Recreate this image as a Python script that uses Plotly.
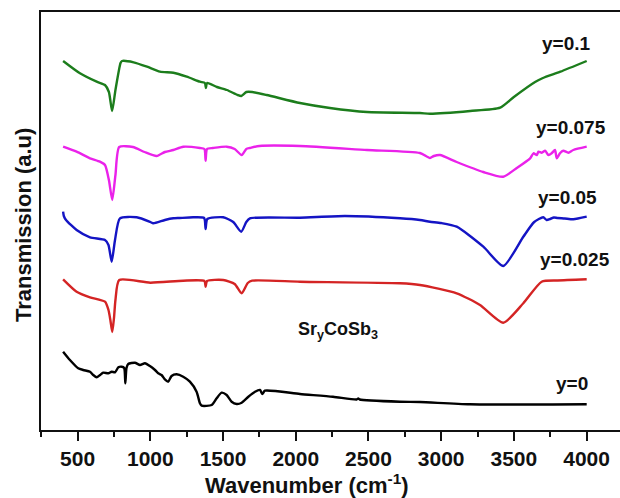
import plotly.graph_objects as go

# FTIR spectra of SryCoSb3 samples, stacked with vertical offsets (a.u.)
labels = ["y=0", "y=0.025", "y=0.05", "y=0.075", "y=0.1"]
colors = ["#000000", "#d42424", "#1414c4", "#ea22ea", "#1c7d1c"]

wn_y0 = [400, 447, 504, 539, 585, 607, 631, 654, 676, 711, 734, 757, 780, 803, 820, 828, 836, 848,
         894, 929, 963, 997, 1032, 1054, 1077, 1100, 1123, 1146, 1181, 1226, 1272, 1318, 1341,
         1353, 1422, 1456, 1490, 1525, 1559, 1594, 1628, 1674, 1720, 1754, 1770, 1788, 2029,
         2256, 2419, 2430, 2440, 2717, 2854, 3198, 4001]
t_y0 = [78.3, 70, 61.7, 60, 58.3, 55, 52.7, 55, 57.3, 56.7, 58.3, 57.7, 62.7, 63.3, 62, 46.7, 62, 66,
        67.3, 65, 66.7, 64, 60, 56.7, 55, 50.7, 48.3, 54, 55.7, 53.3, 48.3, 38.3, 26.7,
        24.3, 25, 31.7, 37.3, 35, 28.3, 26, 27.3, 33.3, 38.3, 40, 36, 39.3, 36,
        33.3, 30.5, 31.5, 30.5, 28.3, 28, 25.7, 25.7]

wn_y025 = [400, 493, 585, 688, 712, 725, 738, 750, 760, 786, 1000, 1226, 1372, 1380, 1390,
           1501, 1580, 1628, 1670, 1700, 2029, 2717, 2854, 3107, 3267, 3427, 3565, 3691,
           3800, 4001]
t_y025 = [150.7, 138.3, 132.7, 128.3, 120, 110, 98, 112, 130, 150, 147.3, 149.3, 149, 143.3, 149,
          150, 146, 136.7, 147, 149.3, 148.3, 146.7, 145, 136.7, 125, 107.3, 126.7, 148.3,
          149.5, 150.7]

wn_y05 = [400, 405, 420, 493, 585, 688, 712, 734, 757, 791, 906, 1000, 1020, 1100, 1158, 1200,
          1295, 1370, 1380, 1392, 1501, 1570, 1625, 1660, 1685, 2029, 2338, 2717, 2854, 2923,
          3000, 3107, 3290, 3427, 3565, 3640, 3702, 3725, 3750, 3775, 3800, 3850, 3909, 4001]
t_y05 = [218.3, 214, 210, 200, 192.7, 190, 185, 168.3, 190, 211.7, 212.7, 208, 206.7, 210, 211.7, 212,
         212.7, 212, 201, 211, 212.7, 208, 198.3, 208, 211.7, 212.3, 214, 211.7, 210, 208.3,
         207, 203.3, 183.3, 164, 193.3, 208, 212.7, 210, 211, 212.5, 212, 211.5, 210.7, 213.3]

wn_y075 = [400, 493, 585, 653, 688, 715, 738, 760, 786, 880, 960, 1043, 1100, 1158, 1226, 1341,
           1372, 1380, 1390, 1431, 1525, 1580, 1628, 1660, 1685, 1750, 2029, 2490, 2854, 2923,
           2950, 2992, 3107, 3290, 3427, 3520, 3612, 3635, 3658, 3669, 3692, 3715, 3737, 3760,
           3783, 3795, 3817, 3840, 3875, 3909, 4001]
t_y075 = [283.3, 278.3, 271.7, 268.3, 265, 250, 230, 255, 283, 283, 278, 274, 278, 280, 283.3, 282,
          281, 269.3, 281, 282, 283.3, 281, 275, 281, 282, 284, 284, 280, 277, 272,
          274, 275, 268, 258, 253.3, 262, 271.7, 276.7, 275, 278.3, 277.3, 279.3, 275, 276.7,
          280, 271.7, 276.7, 279.3, 277.3, 280, 283.3]

wn_y1 = [400, 516, 631, 688, 715, 737, 760, 795, 805, 885, 977, 1066, 1158, 1250, 1341, 1375,
         1382, 1390, 1458, 1527, 1600, 1625, 1660, 1700, 1800, 2029, 2235, 2490, 2854, 2923,
         3200, 3406, 3500, 3646, 3700, 3820, 4001]
t_y1 = [369, 356.7, 348.3, 345, 338, 319, 340, 367, 369, 367.7, 363.3, 358.3, 357.3, 353.3, 348.3, 347,
        342, 347, 343, 340, 335, 334, 338, 338, 335, 327, 322, 318, 317, 316.3,
        319, 322.3, 333, 348, 352, 358.3, 369]

wavenumbers = [wn_y0, wn_y025, wn_y05, wn_y075, wn_y1]
spectra = [t_y0, t_y025, t_y05, t_y075, t_y1]

# label anchor points (wavenumber, a.u.)
label_x = [3898, 3920, 3872, 3893, 3865]
label_y = [47, 171, 233, 303, 387]

font_family = "Liberation Sans, Arial, sans-serif"
ink = "#111111"

fig = go.Figure()
for wn, t, name, c in zip(wavenumbers, spectra, labels, colors):
    fig.add_trace(go.Scatter(x=wn, y=t, mode="lines", name=name,
                             line=dict(color=c, width=2.4, shape="spline", smoothing=0.6),
                             showlegend=False))

for name, lx, ly in zip(labels, label_x, label_y):
    fig.add_annotation(x=lx, y=ly, text=name, showarrow=False,
                       xanchor="center", yanchor="middle",
                       font=dict(family=font_family, size=19, color=ink, weight="bold"))

fig.add_annotation(x=2290, y=100, text="Sr<sub>y</sub>CoSb<sub>3</sub>", showarrow=False,
                   xanchor="center", yanchor="middle",
                   font=dict(family=font_family, size=18, color=ink, weight="bold"))

fig.update_layout(
    width=620, height=498,
    margin=dict(l=41, r=0, t=12, b=68),
    paper_bgcolor="white", plot_bgcolor="white",
    font=dict(family=font_family, color=ink),
    xaxis=dict(range=[248, 4230], tickmode="linear", tick0=500, dtick=500,
               ticks="outside", ticklen=9, tickwidth=2, tickcolor=ink,
               showline=True, linewidth=2, linecolor=ink, mirror=True,
               showgrid=False, zeroline=False,
               tickfont=dict(family=font_family, size=21, color=ink, weight="bold"),
               minor=dict(ticks="outside", ticklen=5, tickwidth=2, dtick=250,
                          tickcolor=ink, showgrid=False)),
    yaxis=dict(range=[0, 418], showticklabels=False, ticks="",
               showline=True, linewidth=2, linecolor=ink, mirror=False,
               showgrid=False, zeroline=False),
)

# axis titles placed relative to the plot frame
fig.add_annotation(text="Wavenumber (cm<sup>-1</sup>)", xref="paper", yref="paper",
                   x=(307 - 41) / 579, y=-(484 - 430) / 418, showarrow=False,
                   xanchor="center", yanchor="middle",
                   font=dict(family=font_family, size=22, color=ink, weight="bold"))
fig.add_annotation(text="Transmission (a.u)", xref="paper", yref="paper",
                   x=-(41 - 23) / 579, y=(430 - 225) / 418, showarrow=False, textangle=-90,
                   xanchor="center", yanchor="middle",
                   font=dict(family=font_family, size=22, color=ink, weight="bold"))

fig.write_html("out.html")
